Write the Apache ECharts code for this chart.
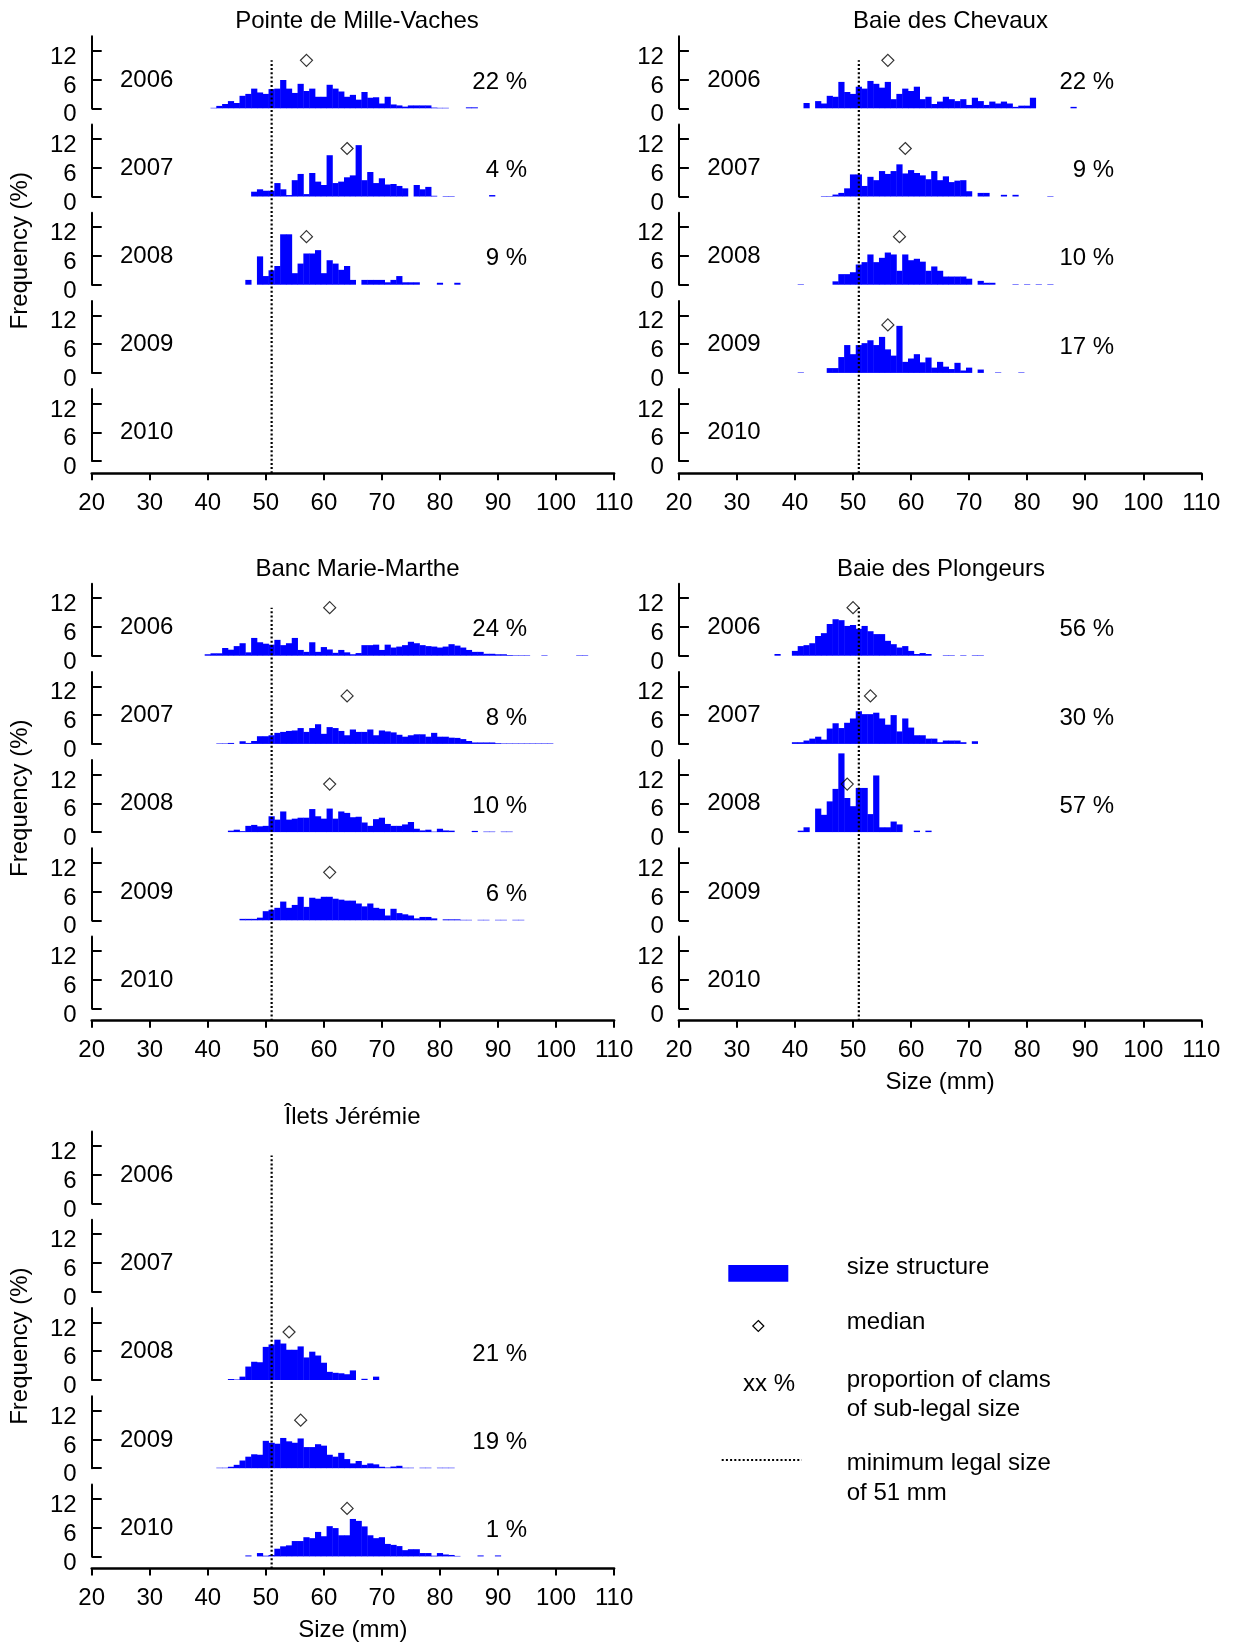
<!DOCTYPE html>
<html><head><meta charset="utf-8">
<script src="https://cdn.jsdelivr.net/npm/echarts@6/dist/echarts.min.js"></script>
<style>html,body{margin:0;padding:0;background:#fff}#c{width:1233px;height:1642px}</style>
</head><body><div id="c"></div>
<script>
// ================= DATA =================
const years = ['2006', '2007', '2008', '2009', '2010'];
const siteNames = ['Pointe de Mille-Vaches', 'Baie des Chevaux', 'Banc Marie-Marthe', 'Baie des Plongeurs', 'Îlets Jérémie'];
const yTickValues = [0, 6, 12];
const LEGAL_SIZE = 51;

// Frequency (%) per 1-mm size class; first class (mm) given by *Start
// Pointe de Mille-Vaches
const pmv2006Start = 41;
const pmv2006 = [0.1,0.5,0.9,1.5,1.1,2.6,3.0,4.1,3.3,3.0, 4.0,4.1,5.9,4.1,3.2,5.1,3.6,4.1,2.4,2.4, 4.9,4.1,3.5,2.4,2.8,1.8,3.4,2.2,2.3,1.0, 2.4,0.8,0.6,0.35,0.6,0.6,0.6,0.6,0.15,0.1, 0.1,0,0,0,0.2,0.2];
const pmv2007Start = 48;
const pmv2007 = [1.0,1.5,1.2,1.2,2.8,1.5,0.3,3.4,4.7,0.5, 4.9,3.1,2.4,8.6,2.8,3.1,4.0,4.4,10.7,3.4, 5.1,2.8,3.8,2.5,2.6,2.2,1.7,0,2.4,1.5, 2.0,0.15,0,0.1,0.1,0,0,0,0,0, 0,0.3];
const pmv2008Start = 47;
const pmv2008 = [1.0,0,5.9,1.8,3.0,3.9,10.5,10.5,2.4,4.4, 6.5,6.5,7.2,2.4,5.1,4.4,3.1,3.9,1.0,0, 1.0,1.0,1.0,1.0,0.5,1.0,1.8,0.5,0.5,0.5, 0,0,0,0.4,0,0,0.4];
const medianPMV = [57, 64, 57, null, null];
const subLegalPMV = [22, 4, 9, null, null];

// Baie des Chevaux
const bdc2006Start = 42;
const bdc2006 = [1.1,0,1.5,1.0,2.6,2.4,5.5,3.4,3.0,4.5, 4.1,5.7,5.1,4.3,5.5,1.9,3.0,4.1,3.6,4.5, 1.9,2.4,0.9,1.4,2.4,1.9,1.5,1.9,0.7,2.2, 1.5,0.7,1.4,1.0,1.4,1.0,0.3,0.55,0.55,2.2, 0,0,0,0,0,0,0.3];
const bdc2007Start = 45;
const bdc2007 = [0.1,0.1,0.4,0.75,1.7,4.6,4.6,2.2,4.1,3.4, 5.3,4.7,5.3,6.7,4.8,5.5,4.9,4.4,3.6,5.3, 3.4,4.2,3.0,3.3,3.4,1.1,0,0.75,0.75,0, 0,0.35,0,0.35,0,0,0,0,0,0.1];
const bdc2008Start = 41;
const bdc2008 = [0.1,0,0,0,0,0,0.7,2.2,2.2,2.6, 4.2,4.7,6.3,4.7,5.6,6.7,6.3,2.9,6.3,5.1, 5.4,4.8,2.9,3.8,2.9,1.7,1.7,1.7,1.7,1.25, 0,0.8,0.4,0.4,0,0,0,0.1,0,0.1, 0,0.1,0,0.1];
const bdc2009Start = 41;
const bdc2009 = [0.1,0,0,0,0,1.0,1.0,3.3,5.8,3.9, 5.8,6.2,6.8,5.8,7.5,4.9,3.6,9.8,2.3,3.0, 3.9,2.2,3.2,1.1,2.3,1.3,0.8,2.1,0.5,1.1, 0,0.7,0,0,0.1,0,0,0,0.1];
const medianBDC = [56, 59, 58, 56, null];
const subLegalBDC = [22, 9, 10, 17, null];

// Banc Marie-Marthe
const bmm2006Start = 40;
const bmm2006 = [0.3,0.5,0.5,1.6,1.25,2.0,2.6,0.7,3.7,2.8, 2.5,2.3,3.3,2.2,2.6,3.7,1.2,0.8,2.8,0.8, 1.8,1.3,0.6,1.2,0.7,0.3,0.55,2.2,2.2,2.3, 1.2,2.3,1.7,1.9,2.2,2.9,2.6,2.2,2.0,1.9, 1.7,1.9,2.4,2.1,1.7,1.2,0.8,0.8,0.4,0.4, 0.3,0.3,0.15,0.1,0.1,0.1,0,0,0.1,0, 0,0,0,0,0.1,0.1];
const bmm2007Start = 42;
const bmm2007 = [0.1,0.1,0.2,0,0.55,0.2,0.6,1.6,1.6,1.8, 2.3,2.5,2.7,2.8,3.3,2.5,3.3,4.1,2.1,3.5, 3.3,2.7,1.8,3.0,2.5,2.5,3.0,1.8,2.8,2.6, 2.4,1.9,1.5,1.8,2.0,2.0,1.5,2.3,1.5,1.5, 1.3,1.25,1.0,0.6,0.3,0.3,0.3,0.3,0.15,0.1, 0.1,0.1,0.1,0.1,0.1,0.1,0.1,0.1];
const bmm2008Start = 44;
const bmm2008 = [0.3,0.5,0.2,1.3,1.5,1.2,1.3,3.3,2.6,4.3, 2.6,2.8,3.0,3.0,4.8,3.3,2.8,4.9,2.8,4.3, 4.0,3.1,3.2,2.0,1.3,2.7,3.0,1.7,1.3,1.3, 1.6,2.1,0.7,0.35,0.5,0.1,0.7,0.35,0.3,0, 0,0,0.25,0,0.1,0.1,0,0.1,0.1];
const bmm2009Start = 46;
const bmm2009 = [0.3,0.3,0.3,0.55,1.9,2.2,2.6,3.9,2.6,3.2, 4.9,2.8,4.7,4.5,4.9,4.9,4.5,4.3,4.1,4.1, 3.5,2.9,3.5,2.6,2.4,1.0,2.4,1.5,1.25,1.0, 0.4,0.7,0.7,0.4,0,0.2,0.2,0.2,0.1,0.1, 0,0.1,0.1,0,0.1,0.1,0,0.1,0.1];
const medianBMM = [61, 64, 61, 61, null];
const subLegalBMM = [24, 8, 10, 6, null];

// Baie des Plongeurs
const bdp2006Start = 37;
const bdp2006 = [0.35,0,0,1.0,2.0,2.2,2.6,4.1,4.7,6.6, 7.6,7.4,6.2,6.4,5.6,6.2,5.1,4.5,4.5,3.1, 2.4,1.7,2.0,1.0,0.35,0.55,0.35,0,0,0.1, 0.1,0,0.1,0,0.1,0.1];
const bdp2007Start = 40;
const bdp2007 = [0.35,0.35,0.7,1.1,1.5,0.9,3.2,4.3,3.3,4.4, 5.3,6.8,6.2,6.2,6.5,5.3,4.0,6.0,2.6,5.3, 3.4,1.8,1.8,1.1,1.1,0.35,0.7,0.7,0.7,0.35, 0,0.55];
const bdp2008Start = 41;
const bdp2008 = [0.3,1.0,0,4.9,3.6,6.4,9.0,16.4,7.1,5.4, 9.2,9.2,3.75,11.8,1.0,1.0,2.2,1.6,0,0, 0.3,0,0.3];
const medianBDP = [50, 53, 49, null, null];
const subLegalBDP = [56, 30, 57, null, null];

// Îlets Jérémie
const ij2008Start = 44;
const ij2008 = [0.2,0.1,0.7,2.8,3.8,3.7,6.9,7.4,8.4,7.6, 6.3,6.3,7.0,4.7,5.9,5.1,3.6,1.7,1.5,1.4, 1.2,2.0,0,0.25,0,0.7];
const ij2009Start = 42;
const ij2009 = [0.1,0.1,0.3,0.7,1.6,2.4,2.9,2.8,5.7,5.3, 5.1,6.3,5.6,5.3,6.2,4.4,4.4,5.0,4.7,2.8, 2.4,3.2,1.9,1.0,1.5,0.7,1.0,0.8,0.3,0.15, 0.35,0.5,0.1,0.1,0,0.1,0.1,0,0.1,0.1, 0.1];
const ij2010Start = 47;
const ij2010 = [0.2,0,0.7,0.15,0.3,1.6,2.1,2.3,3.2,3.2, 4.0,3.8,5.1,4.2,6.3,5.9,4.4,4.4,7.8,7.4, 6.25,4.4,3.8,4.0,2.6,2.4,2.15,1.3,1.5,1.5, 0.7,0.7,0.15,0.7,0.4,0.3,0.1,0,0,0, 0.2,0,0,0.2];
const medianIJ = [null, null, 54, 56, 64];
const subLegalIJ = [null, null, 21, 19, 1];

// ================= LAYOUT =================
const FONT = '"Liberation Sans", Arial, Helvetica, sans-serif';
const FS = 24;
const X_MIN = 20, X_MAX = 110, X_INT = 10;
const Y_MAX = 15;
const COL_LEFT = [91.7, 678.9];
const PLOT_W = 522.4;
const PX_PER_UNIT = 4.8;
const SUB_H = Y_MAX * PX_PER_UNIT;
const ROW_BASE = [108.3, 655.7, 1203.6];
const YEAR_STEP = 88.2;
const XAXIS_GAP = 12.2;
const BIN_PX = PLOT_W / (X_MAX - X_MIN);
const MEDIAN_Y = 10;

const panels = [
  {title: siteNames[0], col: 0, row: 0, titleX: 357, starts: [pmv2006Start, pmv2007Start, pmv2008Start, null, null], freqs: [pmv2006, pmv2007, pmv2008, null, null], med: medianPMV, pct: subLegalPMV, xName: false},
  {title: siteNames[1], col: 1, row: 0, titleX: 950.5, starts: [bdc2006Start, bdc2007Start, bdc2008Start, bdc2009Start, null], freqs: [bdc2006, bdc2007, bdc2008, bdc2009, null], med: medianBDC, pct: subLegalBDC, xName: false},
  {title: siteNames[2], col: 0, row: 1, titleX: 357.5, starts: [bmm2006Start, bmm2007Start, bmm2008Start, bmm2009Start, null], freqs: [bmm2006, bmm2007, bmm2008, bmm2009, null], med: medianBMM, pct: subLegalBMM, xName: false},
  {title: siteNames[3], col: 1, row: 1, titleX: 941, starts: [bdp2006Start, bdp2007Start, bdp2008Start, null, null], freqs: [bdp2006, bdp2007, bdp2008, null, null], med: medianBDP, pct: subLegalBDP, xName: true},
  {title: siteNames[4], col: 0, row: 2, titleX: 352.5, starts: [null, null, ij2008Start, ij2009Start, ij2010Start], freqs: [null, null, ij2008, ij2009, ij2010], med: medianIJ, pct: subLegalIJ, xName: true}
];

const option = {
  animation: false,
  backgroundColor: '#ffffff',
  textStyle: {fontFamily: FONT},
  grid: [], xAxis: [], yAxis: [], series: [], graphic: []
};

function textEl(text, x, y, align, extra) {
  return Object.assign({type: 'text', x: x, y: y, silent: true, z: 50,
    style: {text: text, fill: '#000', font: FS + 'px ' + FONT, align: align, verticalAlign: 'middle'}}, extra || {});
}

panels.forEach(function (p) {
  const left = COL_LEFT[p.col];
  const base0 = ROW_BASE[p.row];
  option.graphic.push(textEl(p.title, p.titleX, base0 - 86.5, 'center'));
  if (p.col === 0) {
    option.graphic.push(textEl('Frequency (%)', 20, base0 + 142.5, 'center', {rotation: Math.PI / 2}));
  }
  for (let k = 0; k < years.length; k++) {
    const base = base0 + k * YEAR_STEP;
    const g = option.grid.length;
    option.grid.push({left: left, top: base - SUB_H, width: PLOT_W, height: SUB_H, outerBoundsMode: 'none'});
    option.xAxis.push({gridIndex: g, type: 'value', min: X_MIN, max: X_MAX, show: false});
    option.yAxis.push({
      gridIndex: g, type: 'value', min: 0, max: Y_MAX, interval: 6,
      axisLine: {show: true, onZero: false, lineStyle: {color: '#000', width: 2}},
      axisTick: {show: true, inside: true, length: 10, lineStyle: {color: '#000', width: 2}, customValues: yTickValues},
      axisLabel: {
        show: true, customValues: yTickValues, color: '#000', fontSize: FS, fontFamily: FONT, margin: 15,
        formatter: function (v) { return '{t|' + v + '}'; },
        rich: {t: {fontSize: FS, fontFamily: FONT, color: '#000', padding: [13, 0, 0, 0]}}
      },
      splitLine: {show: false}
    });
    const f = p.freqs[k];
    if (f) {
      const st = p.starts[k];
      option.series.push({
        type: 'bar', xAxisIndex: g, yAxisIndex: g,
        data: f.map(function (v, i) { return [st + i, v]; }).filter(function (d) { return d[1] > 0; }),
        barWidth: BIN_PX + 0.4, itemStyle: {color: '#0000FF'}, clip: false, silent: true, z: 2
      });
    }
    if (p.med[k] != null) {
      option.series.push({
        type: 'scatter', xAxisIndex: g, yAxisIndex: g, data: [[p.med[k], MEDIAN_Y]],
        symbol: 'diamond', symbolSize: 12, silent: true, z: 6,
        itemStyle: {color: 'rgba(255,255,255,0)', borderColor: '#000', borderWidth: 1.2}
      });
    }
    option.graphic.push(textEl(years[k], left + 28.3, base - 28.3, 'left'));
    if (p.pct[k] != null) {
      option.graphic.push(textEl(p.pct[k] + ' %', left + 435.3, base - 26, 'right'));
    }
  }
  // overlay grid: shared x axis + minimum legal size line
  const ovTop = base0 - SUB_H;
  const ovBottom = base0 + 4 * YEAR_STEP + XAXIS_GAP;
  const ovH = ovBottom - ovTop;
  const g = option.grid.length;
  option.grid.push({left: left, top: ovTop, width: PLOT_W, height: ovH, outerBoundsMode: 'none'});
  option.xAxis.push({
    gridIndex: g, type: 'value', min: X_MIN, max: X_MAX, interval: X_INT,
    axisLine: {show: true, onZero: false, lineStyle: {color: '#000', width: 2.5}},
    axisTick: {show: true, inside: false, length: 7, lineStyle: {color: '#000', width: 2}},
    axisLabel: {show: true, color: '#000', fontSize: FS, fontFamily: FONT, margin: 18},
    splitLine: {show: false},
    name: p.xName ? 'Size (mm)' : '', nameLocation: 'middle', nameGap: 50,
    nameTextStyle: {color: '#000', fontSize: FS, fontFamily: FONT}
  });
  option.yAxis.push({gridIndex: g, type: 'value', min: 0, max: ovH / PX_PER_UNIT, show: false});
  const lineTop = (ovBottom - (base0 - MEDIAN_Y * PX_PER_UNIT)) / PX_PER_UNIT;
  option.series.push({
    type: 'line', xAxisIndex: g, yAxisIndex: g,
    data: [[LEGAL_SIZE, 0], [LEGAL_SIZE, lineTop]],
    symbol: 'none', silent: true, z: 10,
    lineStyle: {color: '#000', width: 2.2, type: [2, 2.2], cap: 'butt'}
  });
});

// ================= LEGEND =================
const LX = 846.7;
option.graphic.push({type: 'rect', silent: true, shape: {x: 728.3, y: 1265, width: 60, height: 16.7}, style: {fill: '#0000FF'}});
option.graphic.push(textEl('size structure', LX, 1267, 'left'));
option.graphic.push({type: 'polygon', silent: true, shape: {points: [[758.3, 1320.5], [763.8, 1326], [758.3, 1331.5], [752.8, 1326]]}, style: {fill: 'none', stroke: '#000', lineWidth: 1.2}});
option.graphic.push(textEl('median', LX, 1322, 'left'));
option.graphic.push(textEl('xx %', 769, 1384, 'center'));
option.graphic.push(textEl('proportion of clams', LX, 1380, 'left'));
option.graphic.push(textEl('of sub-legal size', LX, 1409, 'left'));
option.graphic.push({type: 'line', silent: true, shape: {x1: 721.7, y1: 1460, x2: 801.7, y2: 1460}, style: {stroke: '#000', lineWidth: 2.2, lineDash: [2, 2.2]}});
option.graphic.push(textEl('minimum legal size', LX, 1463, 'left'));
option.graphic.push(textEl('of 51 mm', LX, 1493, 'left'));

const chart = echarts.init(document.getElementById('c'), null, {renderer: 'canvas'});
chart.setOption(option);
</script>
</body></html>
